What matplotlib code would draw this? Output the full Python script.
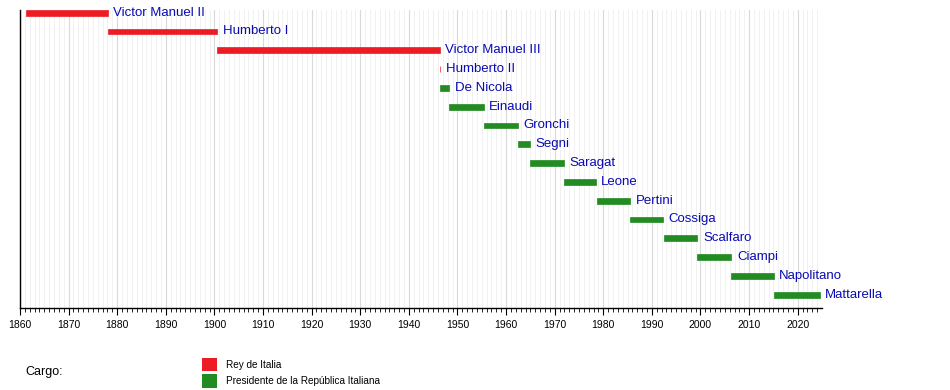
import matplotlib
matplotlib.use("Agg")
import matplotlib.pyplot as plt
from matplotlib.patches import Patch
import numpy as np

plt.rcParams['font.family'] = ['Liberation Sans', 'DejaVu Sans']

names = ["Victor Manuel II", "Humberto I", "Victor Manuel III", "Humberto II",
         "De Nicola", "Einaudi", "Gronchi", "Segni", "Saragat", "Leone",
         "Pertini", "Cossiga", "Scalfaro", "Ciampi", "Napolitano", "Mattarella"]
starts = [1861.21, 1878.02, 1900.58, 1946.35, 1946.50, 1948.36, 1955.36, 1962.36,
          1964.93, 1971.99, 1978.69, 1985.50, 1992.41, 1999.37, 2006.37, 2015.09]
ends = [1878.02, 1900.58, 1946.35, 1946.45, 1948.36, 1955.36, 1962.36, 1964.93,
        1971.99, 1978.45, 1985.48, 1992.32, 1999.37, 2006.37, 2015.04, 2024.50]
roles = ["rey"] * 4 + ["pres"] * 12
role_labels = {"rey": "Rey de Italia", "pres": "Presidente de la República Italiana"}
role_colors = {"rey": "#ed1c24", "pres": "#228b22"}
x_start, x_end = 1860, 2025

fig = plt.figure(figsize=(9.5, 3.9), dpi=100)
ax = fig.add_axes([20/950, 1 - 308/390, (822 - 20)/950, (308 - 10)/390])

ax.set_xlim(x_start, x_end)
ax.set_ylim(15.71, -0.14)

# grid
for yr in range(x_start, x_end + 1):
    if yr % 10 == 0:
        ax.axvline(yr, color="#d9d9d9", lw=0.8, zorder=0)
    else:
        ax.axvline(yr, color="#efefef", lw=0.6, zorder=0)

for i, (n, s, e, r) in enumerate(zip(names, starts, ends, roles)):
    ax.barh(i, e - s, left=s, height=0.31, color=role_colors[r],
            edgecolor=role_colors[r], linewidth=0.5, zorder=2)
    ax.annotate(n, xy=(e, i), xytext=(4, 0), textcoords="offset points",
                ha="left", va="center", fontsize=9.5, color="#0a0ab4", zorder=3)

ax.set_yticks([])
ax.set_xticks(np.arange(x_start, x_end, 10))
ax.set_xticks(np.arange(x_start, x_end, 1), minor=True)
ax.tick_params(axis="x", which="major", length=5, width=0.8, labelsize=7.5,
               pad=4, colors="black")
ax.tick_params(axis="x", which="minor", length=3, width=0.6)
for sp in ["top", "right"]:
    ax.spines[sp].set_visible(False)
ax.spines["left"].set_linewidth(1.0)
ax.spines["bottom"].set_linewidth(1.0)

fig.text(25/950, 1 - 372/390, "Cargo:", fontsize=9, va="center", ha="left")
handles = [Patch(facecolor=role_colors[k], edgecolor="none", label=role_labels[k])
           for k in ["rey", "pres"]]
fig.legend(handles=handles, loc="upper left", bbox_to_anchor=(202/950, 1 - 357.5/390),
           frameon=False, fontsize=7.2, handlelength=1.45, handleheight=1.75,
           handletextpad=1.0, labelspacing=0.3, borderaxespad=0, borderpad=0)

fig.savefig("out.png", dpi=100)
